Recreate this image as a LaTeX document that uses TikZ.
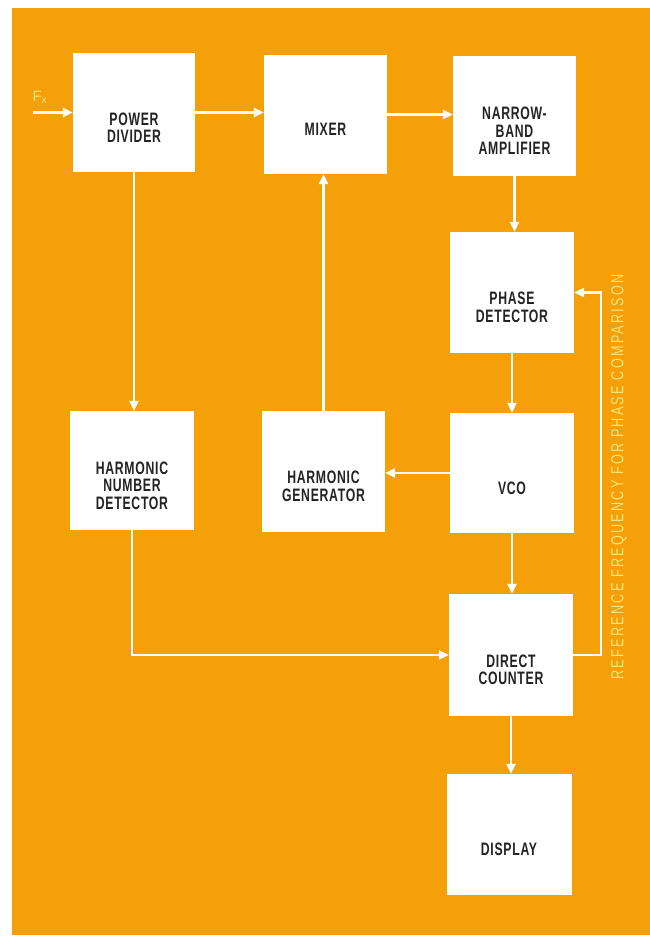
\documentclass[tikz,border=0pt]{standalone}
\usepackage{fontspec}
\setmainfont{Liberation Sans}
\newfontfamily\boxfont[FakeStretch=0.68,LetterSpace=4]{Liberation Sans}
\newfontfamily\labfont[FakeStretch=0.72,LetterSpace=13]{Liberation Sans}
\usetikzlibrary{arrows.meta}
\definecolor{bgorange}{RGB}{245,160,8}
\definecolor{labyellow}{RGB}{255,228,120}
\definecolor{textgray}{RGB}{35,35,35}
\tikzset{
  blk/.style={fill=white, inner sep=0pt},
  txt/.style={inner sep=0pt, align=center, text=textgray, yshift=-15pt,
    font=\boxfont\bfseries\fontsize{18}{17.5}\selectfont},
  arr/.style={draw=white, line width=2.6pt, -{Triangle[length=10pt,width=9pt]}}
}
\begin{document}
\begin{tikzpicture}[x=1pt,y=-1pt]
\useasboundingbox (0,0) rectangle (650,938);
\fill[white] (0,0) rectangle (650,938);
\fill[bgorange] (12,8) rectangle (650,935);

\node[blk, minimum width=122pt, minimum height=119pt, label={[txt]center:POWER\\DIVIDER}] (pd) at (134,112.5) {};
\node[blk, minimum width=123pt, minimum height=119pt, label={[txt]center:MIXER}] (mix) at (325.5,114.5) {};
\node[blk, minimum width=123pt, minimum height=120pt, label={[txt]center:NARROW-\\BAND\\AMPLIFIER}] (nba) at (514.5,116) {};
\node[blk, minimum width=124pt, minimum height=121pt, label={[txt]center:PHASE\\DETECTOR}] (phd) at (512,292.5) {};
\node[blk, minimum width=124pt, minimum height=119pt, label={[txt]center:HARMONIC\\NUMBER\\DETECTOR}] (hnd) at (132,470.5) {};
\node[blk, minimum width=123pt, minimum height=121pt, label={[txt]center:HARMONIC\\GENERATOR}] (hg) at (323.5,471.5) {};
\node[blk, minimum width=124pt, minimum height=120pt, label={[txt]center:VCO}] (vco) at (512,473) {};
\node[blk, minimum width=124pt, minimum height=122pt, label={[txt]center:DIRECT\\COUNTER}] (dc) at (511,655) {};
\node[blk, minimum width=125pt, minimum height=121pt, label={[txt]center:DISPLAY}] (disp) at (509,834.5) {};

\coordinate (fx) at (33,112.5);
\coordinate (rt) at (601,0);
\node[text=labyellow, font=\fontsize{15}{15}\selectfont, inner sep=0pt] (fxl) at (40,97) {F\textsubscript{x}};

\draw[arr] (fx) -- (pd.west);
\draw[arr] (pd.east) -- (pd.east -| mix.west);
\draw[arr] (mix.east) -- (mix.east -| nba.west);
\draw[arr] (nba.south) -- (nba.south |- phd.north);
\draw[arr] (phd.south) -- (phd.south |- vco.north);
\draw[arr] (vco.south) -- (vco.south |- dc.north);
\draw[arr] (dc.south) -- (dc.south |- disp.north);
\draw[arr] (pd.south) -- (pd.south |- hnd.north);
\draw[arr] (hg.north) -- (hg.north |- mix.south);
\draw[arr] (vco.west) -- (vco.west -| hg.east);
\draw[arr] (hnd.south) |- (dc.west);
\draw[arr] (dc.east) -- (dc.east -| rt) |- (phd.east);

\node[rotate=90, text=labyellow, inner sep=0pt, font=\labfont\fontsize{17.5}{18}\selectfont] (ref) at (619,477) {REFERENCE FREQUENCY FOR PHASE COMPARISON};
\end{tikzpicture}
\end{document}
